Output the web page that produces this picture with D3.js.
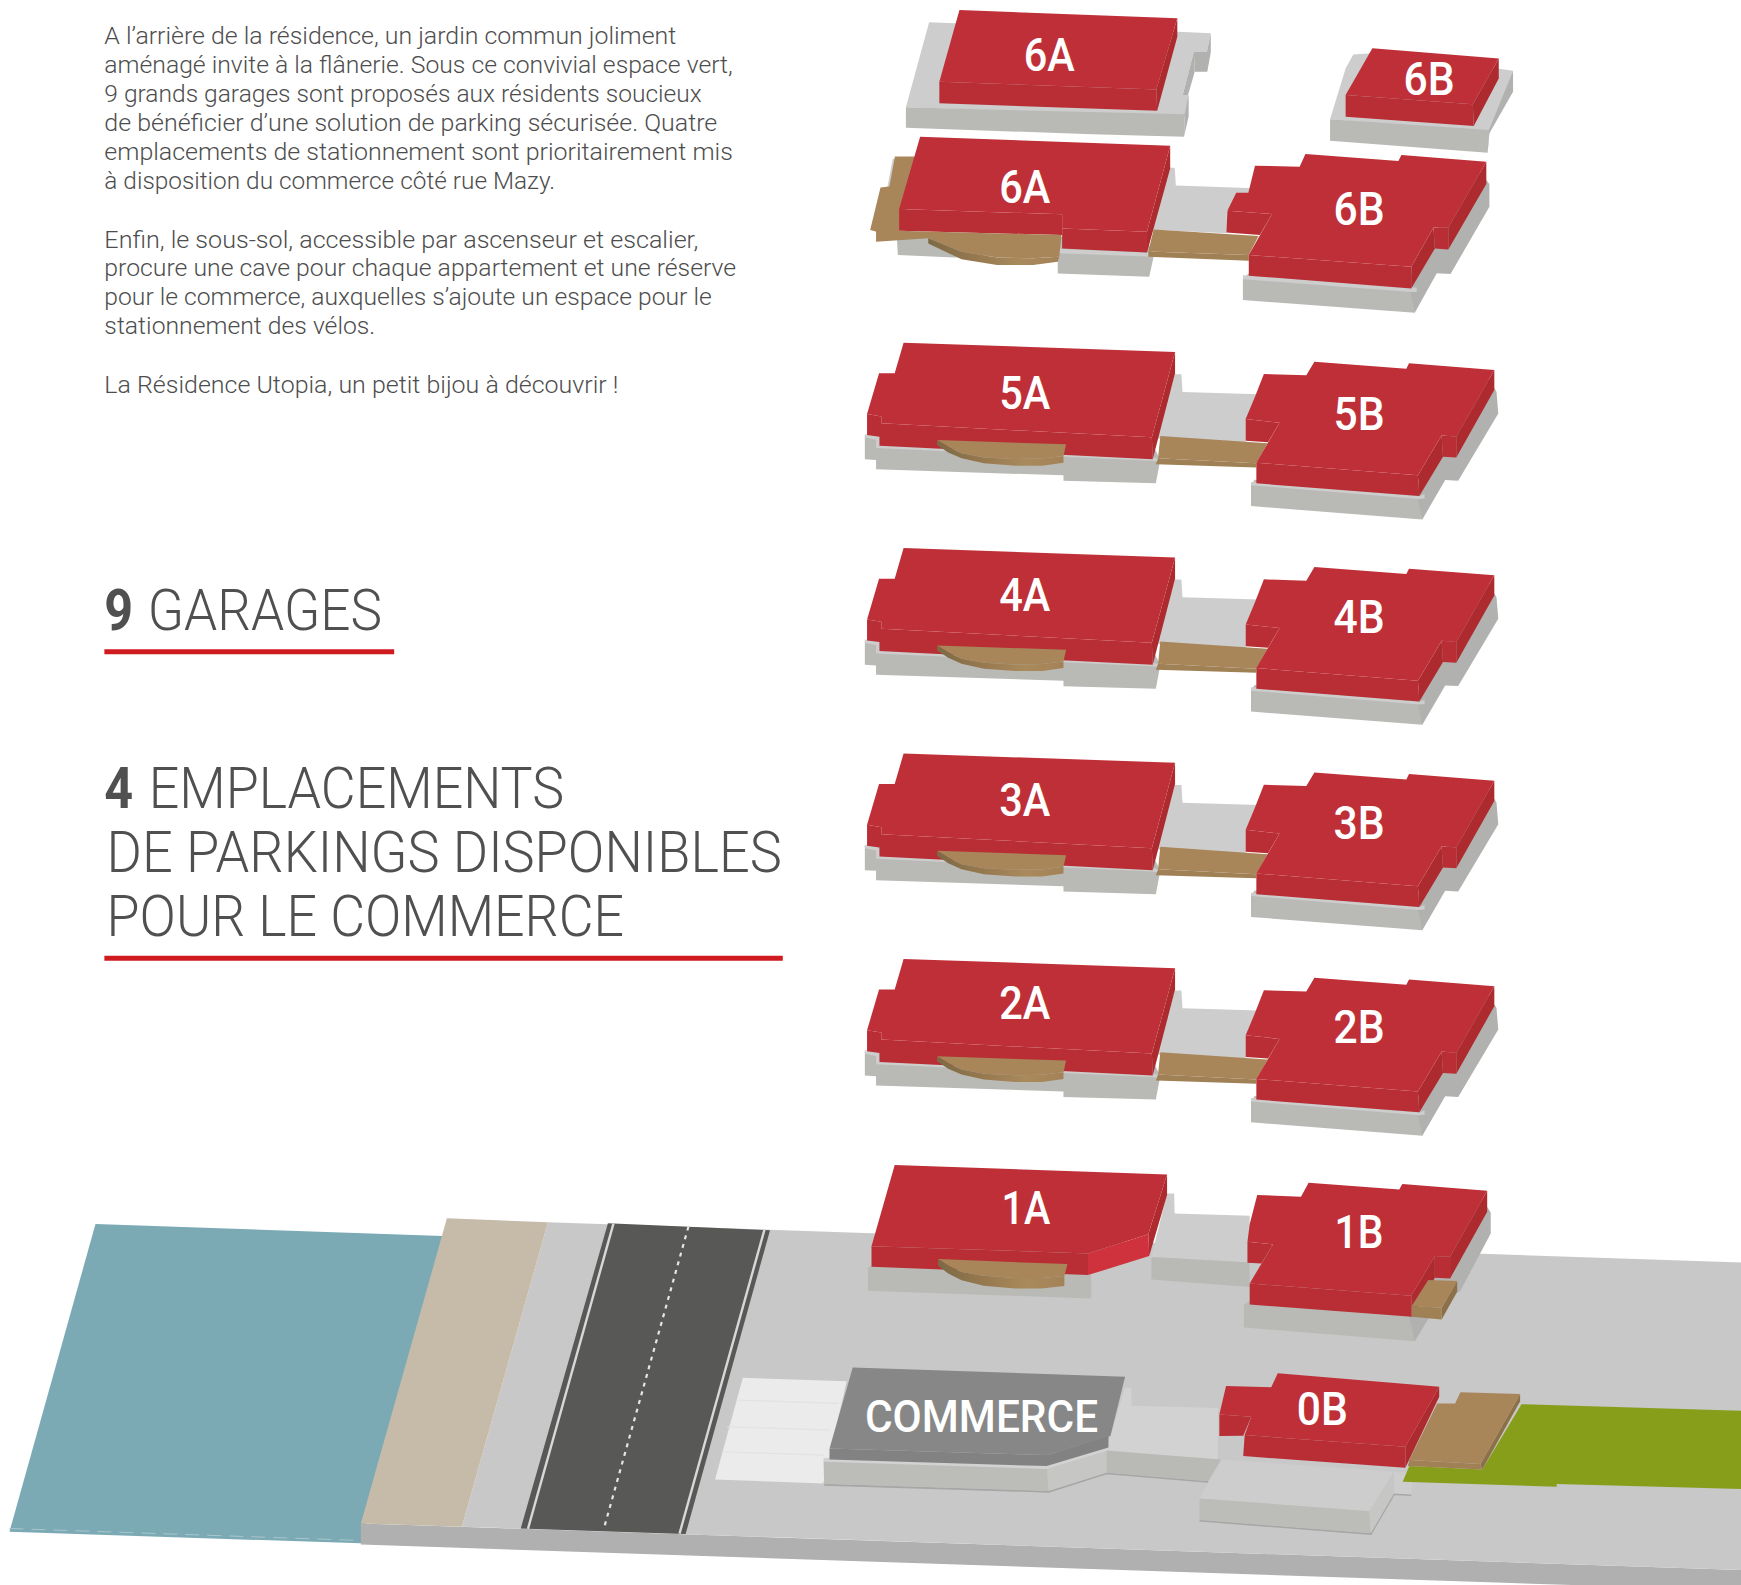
<!DOCTYPE html>
<html>
<head>
<meta charset="utf-8">
<script src="https://cdn.jsdelivr.net/npm/d3@7"></script>
<style>
html, body { margin: 0; padding: 0; background: #fff; }
svg { display: block; }
</style>
</head>
<body>
<svg id="plan" width="1741" height="1585">
  <defs>
    <linearGradient id="woodRim" x1="0" x2="1" y1="0" y2="0">
      <stop offset="0" stop-color="#7c6a45"></stop>
      <stop offset="0.35" stop-color="#96784f"></stop>
      <stop offset="0.7" stop-color="#a98a5c"></stop>
      <stop offset="1" stop-color="#a38257"></stop>
    </linearGradient>
  </defs>
</svg>
<script>
var bodyLines = [
  "A l’arrière de la résidence, un jardin commun joliment",
  "aménagé invite à la flânerie. Sous ce convivial espace vert,",
  "9 grands garages sont proposés aux résidents soucieux",
  "de bénéficier d’une solution de parking sécurisée. Quatre",
  "emplacements de stationnement sont prioritairement mis",
  "à disposition du commerce côté rue Mazy.",
  "Enfin, le sous-sol, accessible par ascenseur et escalier,",
  "procure une cave pour chaque appartement et une réserve",
  "pour le commerce, auxquelles s’ajoute un espace pour le",
  "stationnement des vélos.",
  "La Résidence Utopia, un petit bijou à découvrir !"
];
var bodyBaselines = [40, 66, 92, 118, 144, 170, 223, 249, 275, 301, 354];
var bodyEnds = [609, 660, 632, 646, 660, 500, 629, 663, 641, 338, 557];

var floorShifts = [0, 185, 370, 555];
var floorNames = ["5", "4", "3", "2"];

var tones = ["roof", "front", "side", "bright", "pad", "slab", "slabSide", "wood", "woodFront", "woodSide", "woodRim",
  "ground", "groundFront", "water", "sand", "road", "parking", "shop", "shopFront", "shopPad", "shopSlab", "shopSlabSide", "grass"];
var toneColors = ["#bf2f37", "#b82e34", "#ad2a2f", "#cf323c", "#cdcdcd", "#b9b9b6", "#b1b1af", "#a9855a", "#a08055", "#8c7148", "url(#woodRim)",
  "#c8c8c8", "#b0b0b0", "#7baab5", "#c6bba9", "#585856", "#ebebeb", "#878787", "#828282", "#d2d2d2", "#bcbcb9", "#c6c6c4", "#879e1b"];

var crescentTop = [[844, 396.3], [960.2, 400.2], [957.8, 410.7], [938, 413], [914, 413.4], [886, 412], [866, 408.3], [855, 403]];
var crescentSide = [[844, 396.3], [855, 403], [866, 408.3], [886, 412], [914, 413.4], [938, 413], [957.8, 410.7], [957.8, 416.7], [938.5, 419.4], [914.4, 419.4], [886.2, 417.3], [866, 412.8], [854, 407.5], [844, 400.8]];

var typicalFloor = [
  ["slab", [[778.9, 392], [778.9, 413.7], [789, 414.3], [789, 422.7], [957.8, 428.1], [957.8, 433], [1041, 435.3], [1045, 414], [1038, 400], [790, 390]]],
  ["pad", [[778.9, 391], [792, 393], [792, 400], [1038, 412], [1045, 413.5], [1044.5, 416], [1038, 415], [789, 403.5], [789, 396], [778.9, 394]]],
  ["pad", [[1058, 337], [1064, 337], [1065, 353], [1134, 355], [1122, 378], [1122, 400], [1042, 395]]],
  ["wood", [[1045, 392.7], [1141.6, 399.3], [1131.5, 417.3], [1043, 412.8]]],
  ["woodFront", [[1043, 412.8], [1131.5, 417.3], [1131.5, 421], [1041, 418.2]]],
  ["slab", [[1126.7, 436.8], [1126.7, 455.8], [1281, 467.8], [1283, 448], [1280, 445], [1130, 432]]],
  ["slabSide", [[1281, 467.8], [1301.6, 432.3], [1313.3, 432.9], [1349.4, 372.3], [1347.8, 352.8], [1340, 340], [1300, 395], [1275, 440]]],
  ["pad", [[1126.7, 434], [1278, 447], [1283, 445], [1283, 449], [1278.3, 449.5], [1126.7, 437]]],
  ["side", [[1058.3, 317], [1058.3, 336.2], [1038.2, 413.7], [1037.4, 393.9]]],
  ["front", [[780.9, 372.9], [793.7, 375], [793.7, 381.3], [1037.4, 393.9], [1038.2, 413.7], [792.1, 401.4], [792.1, 393.3], [780.9, 391.8]]],
  ["roof", [[813.8, 308.6], [1058.3, 317], [1037.4, 393.9], [793.7, 381.3], [793.7, 375], [780.9, 372.9], [791.7, 336.2], [805.8, 336.2]]],
  ["wood", crescentTop],
  ["woodRim", crescentSide],
  ["front", [[1121.9, 377.4], [1152.4, 380.7], [1142, 398.4], [1121.9, 397]]],
  ["side", [[1345.8, 333.2], [1345.8, 351.3], [1311.6, 412], [1311.6, 393.3]]],
  ["front", [[1298.4, 392.1], [1311.6, 393.3], [1311.6, 412], [1299.6, 411.3]]],
  ["side", [[1298.4, 392.1], [1299.6, 411.3], [1278.3, 446.8], [1277, 428.1]]],
  ["front", [[1131.5, 416.7], [1277, 428.1], [1278.3, 446.8], [1131.5, 435.3]]],
  ["roof", [[1183.8, 325.7], [1266.6, 332], [1269, 327.2], [1345.8, 333.2], [1311.6, 393.3], [1298.4, 392.1], [1277, 428.1], [1131.5, 416.7], [1152.4, 380.7], [1121.9, 377.4], [1130, 358], [1138.3, 336.8], [1176.5, 338]]]
];

var roofGarages = [
  ["pad", [[836.8, 20.1], [815.9, 96.7], [1070.4, 105.1], [1070.4, 85.6], [1065.2, 85.6], [1075.2, 46.5], [1087, 46.5], [1090.5, 30], [1061, 28.5]]],
  ["slabSide", [[1076, 64.6], [1075.2, 46.5], [1087, 46.5], [1090.5, 30], [1090.5, 47], [1087.3, 64.6]]],
  ["slabSide", [[1065.2, 85.6], [1070, 85.6], [1076, 64.6], [1075.2, 46.5]]],
  ["slab", [[815.9, 96.7], [815.9, 115], [983.9, 121], [1066.4, 123.1], [1067, 103]]],
  ["slabSide", [[1066.4, 123.1], [1070.4, 105.1], [1070.4, 85.6], [1067, 103]]],
  ["side", [[1060.3, 16.5], [1060.3, 33], [1042.2, 99.7], [1041.4, 80.5]]],
  ["front", [[846, 73.6], [1041.4, 80.5], [1042.2, 99.7], [846, 93.1]]],
  ["roof", [[864.1, 9], [1060.3, 16.5], [1041.4, 80.5], [846, 73.6]]],
  ["pad", [[1218.8, 49], [1211.9, 61.6], [1197.9, 107.5], [1341.4, 120.1], [1362.7, 63.7], [1349.8, 62], [1236, 48]]],
  ["slab", [[1197.9, 107.5], [1197.9, 126.7], [1339.8, 137.5], [1341.4, 117]]],
  ["slabSide", [[1339.8, 137.5], [1341.4, 120.1], [1362.7, 82.6], [1362.7, 63.7], [1341, 117]]],
  ["side", [[1349.8, 52.6], [1349.8, 70.6], [1327.3, 113.5], [1326.5, 94]]],
  ["front", [[1211.9, 85.6], [1326.5, 94], [1327.3, 113.5], [1211.9, 105.1]]],
  ["roof", [[1236, 43.5], [1349.8, 52.6], [1326.5, 94], [1211.9, 85.6]]]
];

var floorSix = [
  ["pad", [[804, 143], [808, 143], [802, 170], [799, 170]]],
  ["wood", [[806, 141], [826, 141], [815, 195], [810, 208], [789.7, 208.7], [783.7, 207.2], [793, 168.8], [801, 168]]],
  ["pad", [[1053, 151], [1058, 151], [1059, 167], [1130, 169.5], [1105, 190], [1105, 210], [1037, 207]]],
  ["slab", [[807.8, 215], [808.6, 229.7], [860, 232], [952.6, 226], [952.6, 246.3], [1035, 249.2], [1039, 231.2], [1033, 215], [820, 210]]],
  ["pad", [[952.6, 224], [1033, 227.3], [1039, 229], [1039, 232], [1033, 231], [952.6, 228]]],
  ["wood", [[1039, 206.6], [1133.5, 212.6], [1124.7, 229.7], [1034.2, 226.5]]],
  ["woodFront", [[1034.2, 226.5], [1124.7, 229.7], [1124.7, 234.8], [1034.2, 231.2]]],
  ["slab", [[1119.4, 250.8], [1119.4, 270.3], [1274.2, 281.7], [1276, 262], [1272, 258], [1125, 246]]],
  ["slabSide", [[1274.2, 281.7], [1294, 246], [1306.4, 246.8], [1341.4, 186.2], [1341.4, 165.8], [1333, 155], [1293, 208], [1268, 252]]],
  ["pad", [[1119.4, 248], [1271, 259], [1276, 259], [1276, 263], [1271, 263], [1119.4, 251.5]]],
  ["side", [[1053.9, 131.2], [1053.9, 151.7], [1033, 227.3], [1033, 208.7]]],
  ["front", [[956.6, 205.7], [1033, 208.7], [1033, 227.3], [956.6, 223.7]]],
  ["front", [[809.8, 188.3], [956.6, 193], [956.6, 211.7], [809.8, 207.8]]],
  ["roof", [[828.7, 123.1], [1053.9, 131.2], [1033, 208.7], [956.6, 205.7], [956.6, 193], [809.8, 188.3]]],
  ["wood", [[789, 207.5], [809.8, 207.8], [956, 211.7], [954, 231.2], [930.5, 232.7], [898, 231.8], [866, 226.7], [836, 214.5], [789, 217.7]]],
  ["woodRim", [[836, 214.5], [866, 226.7], [898, 231.8], [930.5, 232.7], [954, 231.2], [952.6, 235.7], [930.5, 238.7], [898, 238.7], [866, 233.6], [836, 219.2]]],
  ["front", [[1105.4, 189.8], [1145.6, 192.8], [1134.7, 211.7], [1104.6, 209.3]]],
  ["side", [[1338.6, 145.6], [1338.6, 165.8], [1304.4, 224.6], [1304.4, 204.8]]],
  ["front", [[1291.1, 204.8], [1304.4, 204.8], [1304.4, 224.6], [1292.3, 223.7]]],
  ["side", [[1291.1, 204.8], [1292.3, 223.7], [1271, 259.8], [1271, 240.2]]],
  ["front", [[1124.7, 229.7], [1271, 240.2], [1271, 259.8], [1124.7, 248.3]]],
  ["roof", [[1175.7, 138.7], [1259.4, 145], [1262.2, 139.6], [1338.6, 145.6], [1304.4, 204.8], [1291.1, 204.8], [1271, 240.2], [1124.7, 229.7], [1145.6, 192.8], [1105.4, 189.8], [1113.4, 173.6], [1124.3, 173.6], [1130.3, 149.2], [1170.5, 150.2]]]
];

var floorOne = [
  ["slab", [[781.7, 1141.5], [781.7, 1162.5], [982.7, 1169.4], [982.7, 1148], [785, 1140]]],
  ["pad", [[1051, 1075], [1057.5, 1075], [1057.9, 1092.9], [1125.5, 1095], [1125.5, 1137], [1037, 1132]]],
  ["slab", [[1037, 1132], [1037, 1152.3], [1125.5, 1159], [1125.5, 1137]]],
  ["slab", [[1120.2, 1175.4], [1120.2, 1195.6], [1274.2, 1207.9], [1276, 1188], [1272, 1184], [1125, 1172]]],
  ["slabSide", [[1274.2, 1207.9], [1296, 1172], [1315, 1163], [1342.6, 1110.9], [1342.6, 1092], [1335, 1080], [1295, 1135], [1268, 1180]]],
  ["side", [[1051.1, 1057.7], [1051.1, 1076.3], [1035, 1131.3], [1034.2, 1111.5]]],
  ["bright", [[979.9, 1128.9], [1034.2, 1111.5], [1035, 1131.3], [979.9, 1148.4]]],
  ["front", [[784.9, 1122.3], [979.9, 1128.9], [979.9, 1148.4], [784.9, 1140.9]]],
  ["roof", [[805.8, 1049.3], [1051.1, 1057.7], [1034.2, 1111.5], [979.9, 1128.9], [784.9, 1122.3]]],
  ["wood", [[844.8, 1134], [961.4, 1138.5], [958.6, 1149.3], [938, 1151], [914, 1151], [886, 1149], [866, 1145.5], [855, 1140.5]]],
  ["woodRim", [[844.8, 1134], [855, 1140.5], [866, 1145.5], [886, 1149], [914, 1151], [938, 1151], [958.6, 1149.3], [958.6, 1158.3], [938, 1160.5], [914, 1160.5], [886, 1158], [866, 1153], [854, 1147], [845, 1140]]],
  ["front", [[1123.5, 1118.4], [1146.4, 1120.8], [1136, 1138], [1123.5, 1137.3]]],
  ["side", [[1339.4, 1072.4], [1339.4, 1091.4], [1306, 1151.4], [1306, 1131.9]]],
  ["front", [[1292.3, 1131.3], [1306, 1131.9], [1306, 1151.4], [1292.3, 1150.8]]],
  ["side", [[1292.3, 1131.3], [1292.3, 1150.8], [1271.4, 1186], [1271, 1167]]],
  ["front", [[1125.5, 1155.9], [1271, 1167], [1271.4, 1186], [1125.5, 1174.8]]],
  ["roof", [[1178.6, 1065.2], [1260.2, 1071.2], [1263, 1066.4], [1339.4, 1072.4], [1306, 1131.9], [1292.3, 1131.3], [1271, 1167], [1125.5, 1155.9], [1146.4, 1120.8], [1123.5, 1118.4], [1125.5, 1102.5], [1132.3, 1076.3], [1171.7, 1077.8]]],
  ["woodSide", [[1312.4, 1153.8], [1312.4, 1163.4], [1298.4, 1188.4], [1298.4, 1177.8]]],
  ["woodFront", [[1271.4, 1176.3], [1298.4, 1177.8], [1298.4, 1188.4], [1271.4, 1186]]],
  ["wood", [[1286.3, 1152.9], [1312.4, 1153.8], [1298.4, 1177.8], [1271.4, 1176.3]]]
];

var groundShapes = [
  ["water", [[86, 1102.4], [398.5, 1113.2], [325, 1390], [8.5, 1379.6]]],
  ["groundFront", [[325, 1372], [325, 1391], [1568, 1432.6], [1568, 1414]]],
  ["ground", [[493.5, 1100.9], [1568, 1137], [1568, 1414], [416, 1375]]],
  ["sand", [[402.5, 1097.3], [493.5, 1100.9], [416, 1375], [325, 1372]]],
  ["road", [[547.5, 1101.8], [693.5, 1107.9], [617.5, 1381.6], [469, 1376.6]]],
  ["parking", [[669, 1240.9], [762.5, 1243.9], [741.5, 1336], [644, 1332.5]]]
];
var waterEdge = [[8.5, 1376.6], [325, 1387.4]];
var roadLines = [
  [[552.5, 1102], [475.5, 1377]],
  [[688.5, 1107.5], [612, 1381.2]]
];
var roadCentre = [[620, 1104.8], [543.5, 1378]];
var parkingLines = [
  [[665, 1261], [755, 1264]],
  [[655, 1285], [747, 1288]],
  [[650, 1307.5], [742, 1310.5]]
];

var shopBlock = [
  ["shopPad", [[1013, 1250], [1019, 1250], [1019, 1266], [1097, 1268], [1097, 1315], [996, 1306], [1000, 1293]]],
  ["slab", [[996.5, 1306.6], [996.5, 1326.4], [1088, 1334], [1100, 1314.4]]],
  ["shopSlab", [[741.7, 1315.6], [742.3, 1336.6], [944.5, 1342.9], [944.5, 1320]]],
  ["shopSlabSide", [[944.5, 1342.9], [996.5, 1326.4], [996.5, 1306.6], [942.7, 1321.6]]],
  ["shopPad", [[741.7, 1313], [942.7, 1319], [996.5, 1303], [996.5, 1306.6], [942.7, 1323], [741.7, 1316.5]]],
  ["shopFront", [[747.1, 1304.5], [942.7, 1310.5], [998.3, 1293.4], [998.3, 1303.6], [942.7, 1320.4], [747.1, 1314.4]]],
  ["shop", [[768, 1231.5], [1013.3, 1239.9], [1000.1, 1293.4], [942.7, 1310.5], [747.1, 1304.5]]]
];
var shadowLines = [
  [[742.3, 1337.2], [944.5, 1343.5], [996.5, 1327], [1088, 1334.6]],
  [[1080.3, 1369.6], [1234.6, 1381.6], [1255.5, 1345.6], [1271, 1346.6]]
];

var bottomRight = [
  ["pad", [[1100, 1314.4], [1255.5, 1325.5], [1233.4, 1361], [1080.3, 1349.5]]],
  ["shopSlab", [[1080.3, 1349.5], [1080.3, 1369], [1234.6, 1381], [1233.4, 1361]]],
  ["shopSlabSide", [[1255.5, 1325.5], [1255.5, 1345], [1234.6, 1381], [1233.4, 1361]]],
  ["pad", [[1255.5, 1325.5], [1273, 1327], [1271, 1346], [1255.5, 1345]]],
  ["grass", [[1370.3, 1264.6], [1568, 1270.6], [1568, 1341], [1402, 1336.6], [1402, 1339], [1263.3, 1334.5], [1269.3, 1320.4], [1335, 1323.4]]],
  ["woodSide", [[1369.1, 1255.5], [1369.1, 1262], [1335, 1323.4], [1333.3, 1318.6]]],
  ["woodFront", [[1269.3, 1315], [1333.3, 1318.6], [1335, 1323.4], [1268, 1320.4]]],
  ["wood", [[1294.4, 1264], [1310.5, 1264], [1315.3, 1254], [1369.1, 1255.5], [1333.3, 1318.6], [1269.3, 1315]]],
  ["side", [[1296.2, 1248.9], [1296.2, 1258], [1265.7, 1321.9], [1265.7, 1303]]],
  ["front", [[1098.2, 1273.9], [1127, 1276], [1119.7, 1293], [1098.2, 1293.4]]],
  ["front", [[1121, 1292.5], [1265.7, 1303], [1265.7, 1321.9], [1119.7, 1311.4]]],
  ["roof", [[1150.8, 1236.9], [1296.2, 1248.9], [1265.7, 1303], [1121, 1292.5], [1127, 1276], [1098.2, 1273.9], [1104.2, 1248.3], [1144.9, 1249.5]]]
];

var blockNames = ["6A", "6B", "6A", "6B", "1A", "1B", "0B", "COMMERCE"];
var blockNameX = [945, 1287, 923, 1224, 924, 1224, 1191, 884];
var blockNameY = [64, 86, 183, 203, 1102, 1124, 1283, 1290];
var blockNameW = [46, 46, 46, 46, 44, 44, 46, 210];
var typicalNameA = [368, 365, 365, 363];
var typicalNameB = [387, 385, 386, 384];

var headlines = [
  [94, 567, "9", 120, "bold"],
  [133, 567, "GARAGES", 344, "light"],
  [94, 728, "4", 120, "bold"],
  [134, 728, "EMPLACEMENTS", 508, "light"],
  [96, 785, "DE PARKINGS DISPONIBLES", 704, "light"],
  [96, 843, "POUR LE COMMERCE", 562, "light"]
];
var underlines = [[94, 355, 587], [94, 705, 863]];

var x = d3.scaleLinear().domain([0, 1568]).range([0, 1741]);
var y = d3.scaleLinear().domain([0, 1427.5]).range([0, 1585]);
var toneColor = d3.scaleOrdinal().domain(tones).range(toneColors);
var outline = d3.line().x(function (d) { return x(d[0]); }).y(function (d) { return y(d[1]); });

var svg = d3.select("#plan");

function drawShapes(shapes, dy) {
  var g = svg.append("g").attr("transform", "translate(0," + (y(dy) - y(0)) + ")");
  g.selectAll("path")
    .data(shapes)
    .enter()
    .append("path")
    .attr("d", function (d) { return outline(d[1]) + "Z"; })
    .attr("fill", function (d) { return toneColor(d[0]); });
}

function drawLines(lines, color, width, dash) {
  svg.append("g").selectAll("path")
    .data(lines)
    .enter()
    .append("path")
    .attr("d", function (d) { return outline(d); })
    .attr("fill", "none")
    .attr("stroke", color)
    .attr("stroke-width", width)
    .attr("stroke-dasharray", dash);
}

function drawName(name, cx, base, w) {
  svg.append("text")
    .attr("x", x(cx))
    .attr("y", y(base))
    .attr("text-anchor", "middle")
    .attr("font-family", "Roboto, sans-serif")
    .attr("font-weight", 500)
    .attr("font-size", name.length > 2 ? 45 : 46)
    .attr("fill", "#fff")
    .attr("textLength", x(w) - x(0))
    .attr("lengthAdjust", "spacingAndGlyphs")
    .text(name);
}

// ground first, then the floors from the top down
drawShapes(groundShapes, 0);
drawLines([waterEdge], "#a9c6cd", 1, "14 8");
drawLines(roadLines, "#d8d8d8", 2.4);
drawLines([roadCentre], "#e6e6e6", 2.2, "4 5");
drawLines(parkingLines, "#e2e2e2", 1.2);
drawLines(shadowLines, "#a6a6a6", 1.8);
drawShapes(shopBlock, 0);
drawShapes(bottomRight, 0);
drawShapes(floorOne, 0);
drawShapes(roofGarages, 0);
drawShapes(floorSix, 0);
floorShifts.forEach(function (dy) {
  drawShapes(typicalFloor, dy);
});

blockNames.forEach(function (name, i) {
  drawName(name, blockNameX[i], blockNameY[i], blockNameW[i]);
});
floorNames.forEach(function (name, i) {
  drawName(name + "A", 923, typicalNameA[i] + floorShifts[i], 46);
  drawName(name + "B", 1224, typicalNameB[i] + floorShifts[i], 46);
});

// text column
svg.append("g").selectAll("text")
  .data(bodyLines)
  .enter()
  .append("text")
  .attr("x", x(94))
  .attr("y", function (d, i) { return y(bodyBaselines[i]); })
  .attr("font-family", "Roboto, sans-serif")
  .attr("font-weight", 300)
  .attr("font-size", 24)
  .attr("fill", "#4d4d4d")
  .attr("textLength", function (d, i) { return x(bodyEnds[i]) - x(94); })
  .attr("lengthAdjust", "spacingAndGlyphs")
  .text(function (d) { return d; });

svg.append("g").selectAll("text")
  .data(headlines)
  .enter()
  .append("text")
  .attr("x", function (d) { return x(d[0]); })
  .attr("y", function (d) { return y(d[1]); })
  .attr("font-family", "Roboto, sans-serif")
  .attr("font-weight", function (d) { return d[4] === "bold" ? 700 : 300; })
  .attr("font-size", 58)
  .attr("fill", "#505050")
  .attr("textLength", function (d) { return x(d[3]) - x(d[0]); })
  .attr("lengthAdjust", "spacingAndGlyphs")
  .text(function (d) { return d[2]; });

svg.append("g").selectAll("line")
  .data(underlines)
  .enter()
  .append("line")
  .attr("x1", function (d) { return x(d[0]); })
  .attr("x2", function (d) { return x(d[1]); })
  .attr("y1", function (d) { return y(d[2]); })
  .attr("y2", function (d) { return y(d[2]); })
  .attr("stroke", "#cf1a20")
  .attr("stroke-width", 5);
</script>
</body>
</html>
